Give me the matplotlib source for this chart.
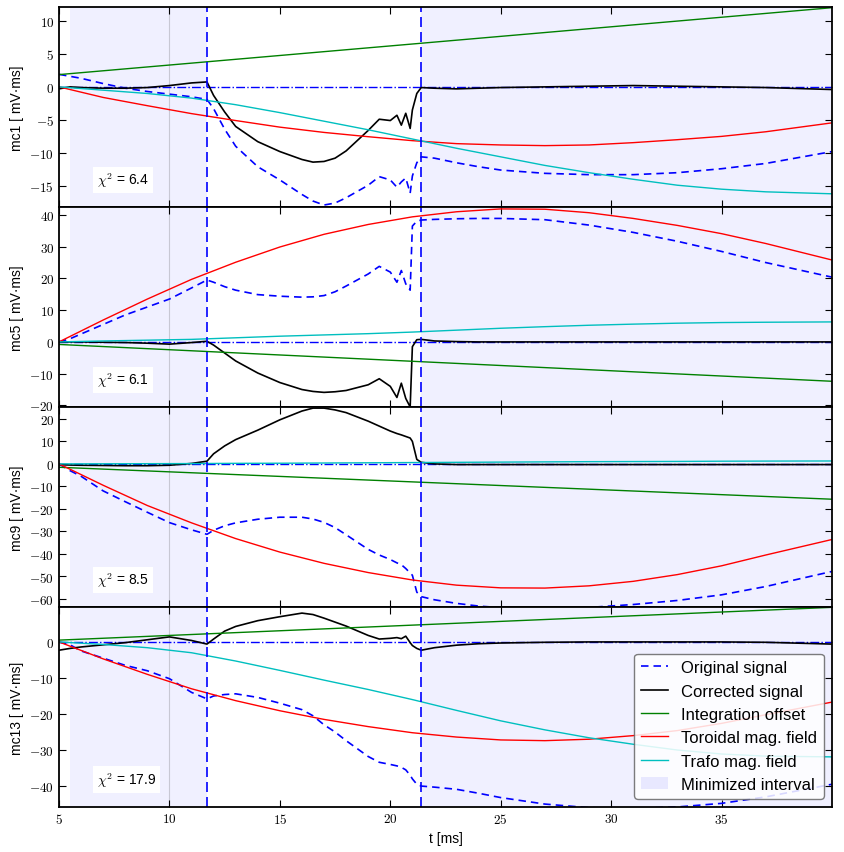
import numpy as np
import matplotlib
matplotlib.use('Agg')
import matplotlib.pyplot as plt
from matplotlib.ticker import MultipleLocator, FuncFormatter
from matplotlib.patches import Patch

plt.rcParams['font.family'] = ['Liberation Sans', 'DejaVu Sans']
plt.rcParams['mathtext.fontset'] = 'cm'

# time grids [ms]
t_fit = [5, 7, 9, 11, 13, 15, 17, 19, 21, 23, 25, 27, 29, 31, 33, 35, 37, 40]
t_off = [5, 40]
t_sig = [5, 5.5, 6, 7, 8, 9, 10, 11, 11.7, 12, 12.5, 13, 14, 15, 16, 16.5, 17, 17.5,
         18, 19, 19.5, 20, 20.3, 20.5, 20.7, 20.9, 21.0, 21.2, 21.4, 22, 23, 24, 25,
         27, 29, 31, 33, 35, 37, 40]

# minimized interval and plasma window
t_min_start = 5.5
t_start = 11.7
t_end = 21.4
t_max = 40

coils = ['mc1', 'mc5', 'mc9', 'mc13']
chi2 = [6.4, 6.1, 8.5, 17.9]

# integration offset (straight line, start/end values)
mc1_off = [1.86, 12.0]
mc5_off = [-0.8, -12.4]
mc9_off = [-1.5, -15.7]
mc13_off = [0.5, 9.6]

# toroidal mag. field contribution
mc1_tor = [0, -1.6, -2.85, -4.05, -5.1, -6.1, -6.9, -7.55, -8.15, -8.6, -8.8, -8.9,
           -8.8, -8.45, -8.0, -7.5, -6.8, -5.45]
mc5_tor = [0, 6.9, 13.5, 19.7, 25.1, 29.9, 33.9, 37.0, 39.4, 41.0, 41.9, 41.8, 40.7,
           38.9, 36.7, 34.1, 31.0, 25.8]
mc9_tor = [0, -9.5, -18.5, -26.2, -33.2, -39.2, -44.2, -48.3, -51.6, -53.9, -55.1,
           -55.2, -54.2, -52.2, -49.2, -45.3, -40.5, -33.6]
mc13_tor = [0, -4.7, -9.0, -13.0, -16.3, -19.1, -21.5, -23.5, -25.2, -26.4, -27.2,
            -27.4, -27.0, -26.0, -24.6, -22.6, -20.2, -16.7]

# trafo mag. field contribution
mc1_trafo = [0, -0.5, -1.0, -1.7, -2.7, -3.9, -5.2, -6.5, -7.9, -9.3, -10.6, -11.9,
             -13.0, -14.0, -14.9, -15.5, -15.9, -16.2]
mc5_trafo = [0, 0.3, 0.55, 0.8, 1.3, 1.8, 2.2, 2.6, 3.1, 3.7, 4.3, 4.8, 5.25, 5.6,
             5.9, 6.1, 6.2, 6.3]
mc9_trafo = [0, 0.05, 0.1, 0.15, 0.25, 0.3, 0.4, 0.5, 0.6, 0.7, 0.8, 0.9, 1.0, 1.05,
             1.1, 1.2, 1.25, 1.3]
mc13_trafo = [0, -0.7, -1.6, -3.0, -5.3, -7.9, -10.6, -13.2, -16.0, -19.0, -21.9,
              -24.4, -26.6, -28.4, -30.0, -31.1, -31.7, -31.9]

# original (measured) signals
mc1_orig = [1.9, 1.6, 1.3, 0.5, -0.2, -0.7, -1.1, -1.5, -1.9, -3.3, -6.4, -9.0, -12.1,
            -14.1, -16.3, -17.3, -17.9, -17.6, -16.8, -14.9, -13.6, -14.1, -15.2, -14.4,
            -13.8, -16.1, -13.5, -11.5, -10.6, -10.8, -11.5, -12.1, -12.6, -13.1, -13.3,
            -13.3, -13.0, -12.4, -11.6, -9.8]
mc5_orig = [0, 1.0, 2.5, 5.5, 8.5, 11.0, 13.5, 17.0, 19.5, 18.8, 17.4, 16.3, 14.9,
            14.4, 14.1, 14.2, 14.6, 15.8, 17.6, 21.4, 23.8, 22.0, 18.8, 22.5, 18.3, 16.3,
            36.5, 38.0, 38.4, 38.6, 38.8, 38.9, 38.9, 38.5, 36.8, 34.5, 31.7, 28.5, 25.0,
            20.4]
mc9_orig = [0, -3.0, -5.5, -12.0, -16.8, -21.5, -26.1, -29.3, -31.3, -29.5, -27.5,
            -26.2, -24.6, -23.7, -23.7, -24.5, -26.0, -28.3, -31.5, -38.0, -40.5, -42.5,
            -44.0, -44.8, -46.5, -48.5, -49.5, -57.0, -59.0, -60.4, -62.0, -63.2, -63.9,
            -64.5, -63.8, -62.5, -60.7, -58.2, -54.5, -47.8]
mc13_orig = [0, -0.8, -2.5, -4.5, -6.5, -8.0, -10.2, -14.0, -15.8, -15.0, -14.6, -14.4,
             -15.4, -17.0, -18.8, -20.5, -23.0, -25.0, -27.4, -31.8, -33.4, -34.0, -34.4,
             -34.8, -35.5, -37.0, -38.0, -39.5, -40.0, -40.3, -40.9, -42.0, -43.2, -45.0,
             -46.0, -46.2, -45.8, -44.8, -43.0, -39.5]

# corrected signals
mc1_corr = [-0.3, 0.0, -0.1, -0.2, -0.2, -0.1, 0.2, 0.6, 0.75, -1.3, -3.8, -6.0, -8.3,
            -9.8, -11.0, -11.4, -11.3, -10.8, -9.7, -6.6, -4.9, -5.1, -4.3, -5.8, -4.0,
            -6.3, -3.5, -1.0, -0.1, -0.2, -0.3, -0.2, -0.1, 0.0, 0.1, 0.2, 0.1, 0.0,
            -0.1, -0.4]
mc5_corr = [0, 0, 0, -0.1, -0.2, -0.4, -0.7, -0.2, 0.2, -1.0, -3.5, -6.0, -9.8, -12.8,
            -15.0, -15.6, -15.9, -15.7, -15.3, -13.5, -11.6, -14.0, -17.5, -13.0, -17.8,
            -20.5, -1.5, 0.7, 0.8, 0.3, 0.1, 0, 0, 0, 0, 0, 0, 0, 0, 0]
mc9_corr = [-0.3, -0.5, -0.6, -0.7, -0.8, -0.8, -0.6, 0.2, 1.2, 4.5, 8.0, 10.8, 15.0,
            19.6, 23.5, 24.8, 24.8, 24.0, 22.8, 19.0, 16.8, 14.6, 13.5, 12.9, 12.2, 11.5,
            10.0, 2.0, 0.7, 0.0, -0.3, -0.3, -0.3, -0.3, -0.3, -0.3, -0.3, -0.3, -0.3,
            -0.3]
mc13_corr = [-2.3, -1.8, -1.4, -0.8, -0.2, 0.6, 1.4, 0.4, -0.6, 0.8, 3.0, 4.3, 5.9,
             7.0, 8.0, 7.6, 6.6, 5.5, 4.4, 1.8, 0.8, 1.0, 1.2, 0.9, 1.6, -0.2, -1.0,
             -1.8, -2.3, -1.6, -0.9, -0.5, -0.3, -0.1, 0, 0, 0, 0, -0.1, -0.6]

orig = [mc1_orig, mc5_orig, mc9_orig, mc13_orig]
corr = [mc1_corr, mc5_corr, mc9_corr, mc13_corr]
off = [mc1_off, mc5_off, mc9_off, mc13_off]
tor = [mc1_tor, mc5_tor, mc9_tor, mc13_tor]
trafo = [mc1_trafo, mc5_trafo, mc9_trafo, mc13_trafo]

ylims = [(-18.2, 12.1), (-20.5, 42.5), (-63.6, 25.3), (-45.8, 9.7)]
ysteps = [5, 10, 10, 10]

fig, axes = plt.subplots(4, 1, sharex=True, figsize=(8.44, 8.53), dpi=100)
fig.subplots_adjust(left=0.0699, right=0.9858, top=0.9906, bottom=0.0528, hspace=0)

mathfmt = FuncFormatter(lambda v, p: r'$%g$' % v)

for i, ax in enumerate(axes):
    ax.axvspan(t_min_start, t_start, color='b', alpha=0.06, lw=0)
    ax.axvspan(t_end, t_max, color='b', alpha=0.06, lw=0)
    ax.axvline(10, color='#c8c8d4', lw=0.8, zorder=1)
    ax.axhline(0, color='b', ls='-.', lw=1)
    ax.plot(t_sig, orig[i], 'b', ls='--', dashes=(4.5, 3), lw=1.2, label='Original signal')
    ax.plot(t_sig, corr[i], 'k', lw=1.2, label='Corrected signal')
    ax.plot(t_off, off[i], 'g', lw=1, label='Integration offset')
    ax.plot(t_fit, tor[i], 'r', lw=1, label='Toroidal mag. field')
    ax.plot(t_fit, trafo[i], 'c', lw=1, label='Trafo mag. field')
    for tv in (t_start, t_end):
        ax.axvline(tv, color='b', ls='--', dashes=(6, 3), lw=1.2)

    ax.set_ylim(ylims[i])
    ax.yaxis.set_major_locator(MultipleLocator(ysteps[i]))
    ax.yaxis.set_major_formatter(mathfmt)
    ax.xaxis.set_major_formatter(mathfmt)
    ax.set_ylabel(coils[i] + u' [ mV\u00b7ms]', fontsize=10)
    ax.tick_params(direction='in', top=True, right=True, length=5, labelsize=9.5)
    for s in ax.spines.values():
        s.set_linewidth(1.3)
    ax.text(0.049, 0.135, r'$\chi^2$ = %.1f' % chi2[i], transform=ax.transAxes,
            fontsize=10, va='center', ha='left',
            bbox=dict(facecolor='white', edgecolor='none', pad=3))

ax = axes[-1]
ax.set_xlim(5, t_max)
ax.set_xticks(np.arange(5, 40, 5))
ax.set_xlabel('t [ms]', fontsize=10)

handles, labels = ax.get_legend_handles_labels()
handles.append(Patch(facecolor='b', alpha=0.08, edgecolor='none'))
labels.append('Minimized interval')
ax.legend(handles, labels, loc='lower right', fontsize=12, handlelength=1.6,
          labelspacing=0.5, framealpha=0.85, edgecolor='0.4')

fig.savefig('out.png', dpi=100)
